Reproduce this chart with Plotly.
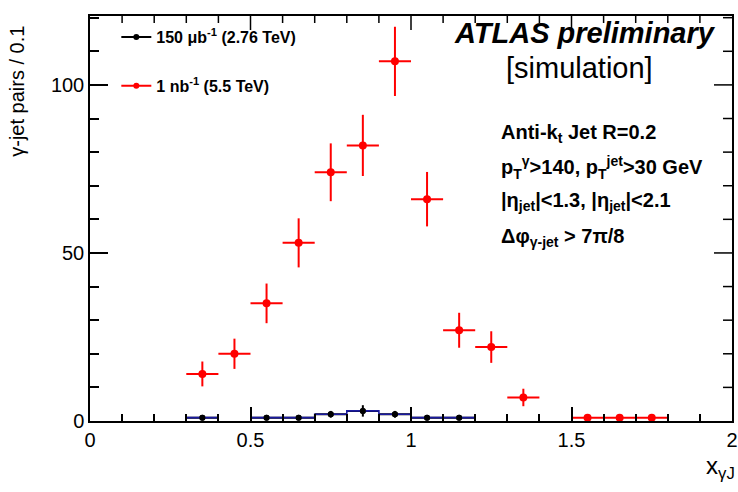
import plotly.graph_objects as go

# --- data ---
red_x = [0.35, 0.45, 0.55, 0.65, 0.75, 0.85, 0.95, 1.05, 1.15, 1.25, 1.35, 1.55, 1.65, 1.75]
red_y = [14, 20, 35, 53, 74, 82, 107, 66, 27, 22, 7, 1, 1, 1]
red_err = [3.7, 4.5, 5.9, 7.3, 8.6, 9.1, 10.3, 8.1, 5.2, 4.7, 2.6, 0.5, 0.5, 0.5]

blk_x = [0.35, 0.55, 0.65, 0.75, 0.85, 0.95, 1.05, 1.15]
blk_y = [1, 1, 1, 2, 3, 2, 1, 1]
blk_err = [0.4, 0.4, 0.4, 1.0, 1.7, 1.0, 0.4, 0.4]

bin_half = 0.05

# blue histogram outline (bin edges / contents)
hist_edges = [0.3, 0.4, None, 0.5, 0.6, 0.7, 0.8, 0.9, 1.0, 1.1, 1.2]
hist_vals = [1, 1, None, 1, 1, 2, 3, 2, 1, 1, 1]

x_range = [0, 2]
y_range = [0, 120.5]
x_major, x_minor_step = 0.5, 0.1
y_major, y_minor_step = 50, 10

W, H = 738, 492
M = dict(l=90, r=6, t=16, b=71)
PW = W - M["l"] - M["r"]
PH = H - M["t"] - M["b"]

FONT = "Liberation Sans, Arial, Helvetica, sans-serif"

fig = go.Figure()

fig.add_trace(go.Scatter(
    x=red_x, y=red_y, mode="markers",
    marker=dict(color="#ff0000", size=8),
    error_x=dict(type="constant", value=bin_half, color="#ff0000", thickness=2, width=0),
    error_y=dict(type="data", array=red_err, color="#ff0000", thickness=2, width=0),
    showlegend=False,
))

fig.add_trace(go.Scatter(
    x=blk_x, y=blk_y, mode="markers",
    marker=dict(color="black", size=6),
    error_x=dict(type="constant", value=bin_half, color="black", thickness=2, width=0),
    error_y=dict(type="data", array=blk_err, color="black", thickness=2, width=0),
    showlegend=False,
))

fig.add_trace(go.Scatter(
    x=hist_edges, y=hist_vals, mode="lines", line_shape="hv",
    line=dict(color="#1a1aa0", width=1.6), connectgaps=False,
    showlegend=False, hoverinfo="skip",
))
fig.add_trace(go.Scatter(
    x=blk_x, y=blk_y, mode="markers",
    marker=dict(color="black", size=6), showlegend=False,
))

# legend entries
fig.add_trace(go.Scatter(
    x=[None], y=[None], mode="lines+markers",
    line=dict(color="black", width=2), marker=dict(color="black", size=6),
    name="<b>150 μb<sup>-1</sup> (2.76 TeV)</b>", legendgroup="a",
))
fig.add_trace(go.Scatter(
    x=[None], y=[None], mode="lines+markers",
    line=dict(color="#ff0000", width=2), marker=dict(color="#ff0000", size=6),
    name="<b>1 nb<sup>-1</sup> (5.5 TeV)</b>", legendgroup="b",
))

tick_common = dict(
    ticks="inside", tickwidth=1.5, tickcolor="black",
    showgrid=False, zeroline=False, automargin=False,
    showline=True, linecolor="black", linewidth=1.5, mirror=True,
    tickfont=dict(family=FONT, size=20, color="black"),
)
xminor = dict(dtick=x_minor_step, ticks="inside", ticklen=7, tickwidth=1.5, tickcolor="black")
yminor = dict(dtick=y_minor_step, ticks="inside", ticklen=9, tickwidth=1.5, tickcolor="black")

fig.update_layout(
    xaxis=dict(range=x_range, dtick=x_major, tick0=0, minor=xminor, ticklen=14, **tick_common),
    yaxis=dict(range=y_range, dtick=y_major, tick0=0, minor=yminor, ticklen=18, **tick_common),
)

# mirrored tick marks on the top and right frame edges
shapes = []
n_x = int(round((x_range[1] - x_range[0]) / x_minor_step))
for i in range(1, n_x):
    xv = x_range[0] + i * x_minor_step
    is_major = abs(xv / x_major - round(xv / x_major)) < 1e-6
    ln = (14 if is_major else 7) / PH
    shapes.append(dict(type="line", xref="x", yref="paper", x0=xv, x1=xv,
                       y0=1, y1=1 - ln, line=dict(color="black", width=1.5)))
n_y = int(y_range[1] // y_minor_step)
for i in range(1, n_y + 1):
    yv = i * y_minor_step
    is_major = yv % y_major == 0
    ln = (18 if is_major else 9) / PW
    shapes.append(dict(type="line", xref="paper", yref="y", x0=1, x1=1 - ln,
                       y0=yv, y1=yv, line=dict(color="black", width=1.5)))

ann = []
ann.append(dict(text="<b><i>ATLAS preliminary</i></b>", x=0.9785, y=0.958,
                xanchor="right", yanchor="middle", font=dict(size=29)))
ann.append(dict(text="[simulation]", x=0.762, y=0.872,
                xanchor="center", yanchor="middle", font=dict(size=29)))
lines = [
    "<b>Anti-k<sub>t</sub> Jet R=0.2</b>",
    "<b>p<sub>T</sub><sup>γ</sup>&gt;140, p<sub>T</sub><sup>jet</sup>&gt;30 GeV</b>",
    "<b>|η<sub>jet</sub>|&lt;1.3, |η<sub>jet</sub>|&lt;2.1</b>",
    "<b>Δφ<sub>γ-jet</sub> &gt; 7π/8</b>",
]
ys = [0.711, 0.627, 0.543, 0.454]
for t, yy in zip(lines, ys):
    ann.append(dict(text=t, x=0.637, y=yy, xanchor="left", yanchor="middle",
                    font=dict(size=20)))
ann.append(dict(text="γ-jet pairs / 0.1", x=-0.114, y=0.815, textangle=-90,
                xanchor="center", yanchor="middle", font=dict(size=20)))
ann.append(dict(text="x<sub>γJ</sub>", x=1.008, y=-0.115, xanchor="right",
                yanchor="middle", font=dict(size=24)))
for a in ann:
    a.update(xref="paper", yref="paper", showarrow=False)
    a["font"].update(family=FONT, color="black")

fig.update_layout(
    width=W, height=H,
    margin=dict(**M, autoexpand=False),
    paper_bgcolor="white", plot_bgcolor="white",
    font=dict(family=FONT, color="black"),
    annotations=ann, shapes=shapes,
    legend=dict(x=0.041, y=0.99, xanchor="left", yanchor="top",
                bgcolor="rgba(0,0,0,0)", tracegroupgap=25,
                font=dict(family=FONT, size=16, color="black")),
)

fig.write_html("out.html")
